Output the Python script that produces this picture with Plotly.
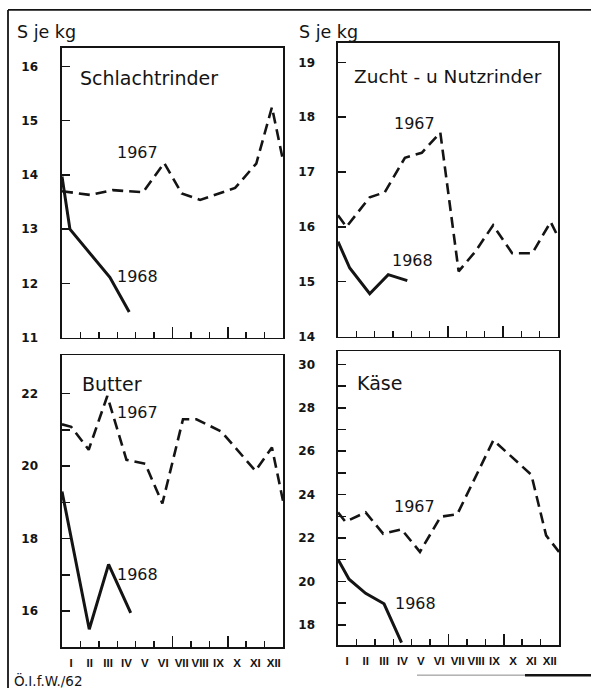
import plotly.graph_objects as go

# ---------------- data ----------------
month_labels = ["I", "II", "III", "IV", "V", "VI", "VII", "VIII", "IX", "X", "XI", "XII"]

# Schlachtrinder (S je kg)
schlacht_1967_x = [0, 1.55, 2.75, 4.4, 5.55, 6.5, 7.5, 9.4, 10.55, 11.4, 12]
schlacht_1967_y = [13.70, 13.63, 13.72, 13.68, 14.22, 13.66, 13.54, 13.76, 14.21, 15.25, 14.27]
schlacht_1968_x = [0, 0.43, 2.6, 3.65]
schlacht_1968_y = [13.97, 13.0, 12.11, 11.47]

# Zucht- u. Nutzrinder
zucht_1967_x = [0, 0.46, 1.73, 2.55, 3.65, 4.57, 5.58, 6.58, 7.49, 8.46, 9.5, 10.6, 11.6, 12]
zucht_1967_y = [16.21, 16.0, 16.54, 16.63, 17.26, 17.35, 17.72, 15.19, 15.55, 16.03, 15.52, 15.52, 16.09, 15.82]
zucht_1968_x = [0, 0.64, 1.73, 2.74, 3.78]
zucht_1968_y = [15.73, 15.25, 14.78, 15.13, 15.02]

# Butter
butter_1967_x = [0, 0.5, 1.45, 2.46, 3.5, 4.52, 5.45, 6.57, 7.3, 8.65, 10.5, 11.4, 12]
butter_1967_y = [21.15, 21.08, 20.45, 21.93, 20.17, 20.06, 18.97, 21.29, 21.29, 20.95, 19.87, 20.51, 19.04]
butter_1968_x = [0, 1.48, 2.53, 3.73]
butter_1968_y = [19.3, 15.5, 17.29, 15.95]

# Käse
kaese_1967_x = [0, 0.4, 1.5, 2.45, 3.45, 4.45, 5.57, 6.48, 8.44, 10.5, 11.3, 12]
kaese_1967_y = [23.18, 22.75, 23.18, 22.2, 22.4, 21.36, 22.98, 23.1, 26.51, 24.91, 22.12, 21.36]
kaese_1968_x = [0, 0.6, 1.5, 2.5, 3.45]
kaese_1968_y = [21.01, 20.1, 19.45, 18.97, 17.18]

# y tick values / labels
schlacht_ticks = [11, 12, 13, 14, 15, 16]
zucht_ticks = [14, 15, 16, 17, 18, 19]
butter_ticks = [16, 17, 18, 19, 20, 21, 22]
butter_ticklabels = ["16", "", "18", "", "20", "", "22"]
kaese_ticks = list(range(18, 31))
kaese_ticklabels = [str(v) if v % 2 == 0 else "" for v in kaese_ticks]

# ---------------- layout helpers ----------------
W, H = 591, 695


def fx(p):
    return p / W


def fy(p):
    return 1 - p / H


INK = "#141414"
FONT = "DejaVu Sans"

fig = go.Figure()

panels = [
    ("x", "y", schlacht_1967_x, schlacht_1967_y, schlacht_1968_x, schlacht_1968_y),
    ("x2", "y2", zucht_1967_x, zucht_1967_y, zucht_1968_x, zucht_1968_y),
    ("x3", "y3", butter_1967_x, butter_1967_y, butter_1968_x, butter_1968_y),
    ("x4", "y4", kaese_1967_x, kaese_1967_y, kaese_1968_x, kaese_1968_y),
]
for xa, ya, x67, y67, x68, y68 in panels:
    fig.add_trace(go.Scatter(x=x67, y=y67, mode="lines", xaxis=xa, yaxis=ya,
                             line=dict(color=INK, width=2.6, dash="11px,6px"),
                             showlegend=False, hoverinfo="skip"))
    fig.add_trace(go.Scatter(x=x68, y=y68, mode="lines", xaxis=xa, yaxis=ya,
                             line=dict(color=INK, width=3), showlegend=False,
                             hoverinfo="skip"))

# overlay axes for the longer quarter ticks (need a trace to be drawn)
for i, ya in enumerate(["y", "y2", "y3", "y4"]):
    fig.add_trace(go.Scatter(x=[None], y=[None], xaxis="x%d" % (i + 5), yaxis=ya,
                             showlegend=False, hoverinfo="skip"))

domains = {
    1: ([62, 283], [48, 341]),
    2: ([338, 558], [43, 340]),
    3: ([62, 283], [359, 654]),
    4: ([338, 559], [355, 652]),
}
yranges = {1: [11, 16.35], 2: [14, 19.36], 3: [15, 23.05], 4: [17.05, 30.6]}
yticks = {1: (schlacht_ticks, [str(v) for v in schlacht_ticks]),
          2: (zucht_ticks, [str(v) for v in zucht_ticks]),
          3: (butter_ticks, butter_ticklabels),
          4: (kaese_ticks, kaese_ticklabels)}

month_centers = [i + 0.5 for i in range(12)]
month_bounds = list(range(1, 12))

layout = dict(width=W, height=H, margin=dict(l=0, r=0, t=0, b=0),
              paper_bgcolor="white", plot_bgcolor="white",
              font=dict(family=FONT, color=INK))

for k in range(1, 5):
    (x0, x1), (y0, y1) = domains[k]
    sfx = "" if k == 1 else str(k)
    bottom = k in (3, 4)
    layout["xaxis" + sfx] = dict(
        domain=[fx(x0), fx(x1)], range=[0, 12], anchor="y" + sfx,
        showline=True, linecolor=INK, linewidth=1.6, mirror=True,
        showgrid=False, zeroline=False, fixedrange=True,
        tickmode="array", tickvals=month_centers,
        ticktext=month_labels, ticks="", showticklabels=bottom,
        tickfont=dict(family="Liberation Sans", size=11.5, color=INK, weight="bold"),
        ticklabelstandoff=4,
        minor=dict(tickmode="array", tickvals=month_bounds, ticks="inside",
                   ticklen=6, tickwidth=1.5, tickcolor=INK, showgrid=False),
    )
    layout["xaxis%d" % (k + 4)] = dict(
        overlaying="x" + sfx, anchor="y" + sfx, range=[0, 12], side="bottom",
        showline=False, showgrid=False, zeroline=False, fixedrange=True,
        tickmode="array", tickvals=[6, 9], ticks="inside", ticklen=11,
        tickwidth=1.5, tickcolor=INK, showticklabels=False,
    )
    tv, tt = yticks[k]
    layout["yaxis" + sfx] = dict(
        domain=[fy(y1), fy(y0)], range=yranges[k], anchor="x" + sfx,
        showline=True, linecolor=INK, linewidth=1.6, mirror=True,
        showgrid=False, zeroline=False, fixedrange=True,
        tickmode="array", tickvals=tv, ticktext=tt,
        ticks="inside", ticklen=8, tickwidth=1.5, tickcolor=INK,
        tickfont=dict(family=FONT, size=12, color=INK, weight="bold"),
        ticklabelstandoff=20 if k in (1, 3) else 19,
    )

fig.update_layout(**layout)


def label(text, x, y, size=16, anchor="center"):
    fig.add_annotation(text=text, x=fx(x), y=fy(y), xref="paper", yref="paper",
                       showarrow=False, xanchor=anchor, yanchor="middle",
                       font=dict(family=FONT, size=size, color=INK))


label("S je kg", 15, 32, 17.5, "left")
label("S je kg", 297, 32, 17.5, "left")
label("Schlachtrinder", 78, 79, 19, "left")
label("Zucht - u Nutzrinder", 352, 77, 18.5, "left")
label("Butter", 80, 388, 19, "left")
label("Käse", 355, 387, 19, "left")
label("1967", 137, 154, 16)
label("1968", 137, 279, 16)
label("1967", 414, 125, 16)
label("1968", 412, 263, 16)
label("1967", 137, 417, 16)
label("1968", 137, 580, 16)
label("1967", 414, 512, 16)
label("1968", 415, 610, 16)
label("Ö.I.f.W./62", 12, 687, 13.5, "left")

# outer frame of the sheet (partially visible in the scan)
frame = dict(color=INK, width=1.8)
fig.add_shape(type="line", xref="paper", yref="paper", x0=fx(8), x1=fx(8),
              y0=fy(10), y1=fy(695), line=frame)
fig.add_shape(type="line", xref="paper", yref="paper", x0=fx(8), x1=fx(591),
              y0=fy(10), y1=fy(10), line=frame)
fig.add_shape(type="line", xref="paper", yref="paper", x0=fx(417), x1=fx(525),
              y0=fy(682), y1=fy(682), line=dict(color="#888", width=1))
fig.add_shape(type="line", xref="paper", yref="paper", x0=fx(525), x1=fx(591),
              y0=fy(682), y1=fy(682), line=dict(color=INK, width=2.5))

fig.write_html("out.html",
               config={"displayModeBar": False, "staticPlot": True},
               post_script="document.body.style.margin='0';"
                           "document.body.style.overflow='hidden';")
